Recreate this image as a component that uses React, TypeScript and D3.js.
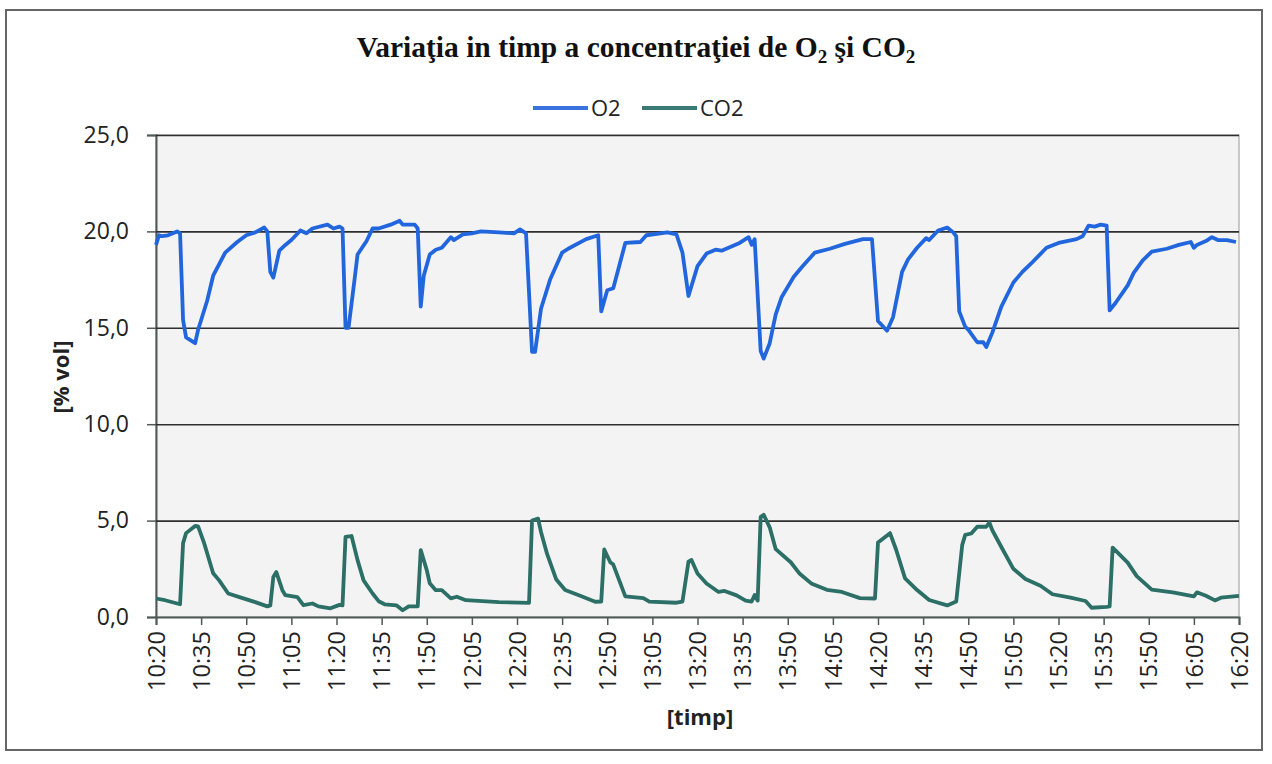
import React, { useRef, useEffect } from 'react';
import * as d3 from 'd3';

const xTickLabels = [
  '10:20', '10:35', '10:50', '11:05', '11:20', '11:35', '11:50', '12:05', '12:20',
  '12:35', '12:50', '13:05', '13:20', '13:35', '13:50', '14:05', '14:20', '14:35',
  '14:50', '15:05', '15:20', '15:35', '15:50', '16:05', '16:20'
];
const yTicks = [0, 5, 10, 15, 20, 25];

const o2: [string, number][] = [
  ['10:20', 19.3], ['10:21', 19.8], ['10:22', 19.75], ['10:24', 19.8], ['10:27', 20.0], ['10:28', 19.9],
  ['10:29', 15.4], ['10:30', 14.5], ['10:33', 14.2], ['10:34', 14.9], ['10:37', 16.4], ['10:39', 17.7],
  ['10:41', 18.3], ['10:43', 18.9], ['10:47', 19.45], ['10:50', 19.8], ['10:53', 19.95], ['10:56', 20.2],
  ['10:57', 20.0], ['10:58', 17.9], ['10:59', 17.6], ['11:01', 19.0], ['11:03', 19.3], ['11:05', 19.55],
  ['11:08', 20.05], ['11:10', 19.9], ['11:12', 20.15], ['11:17', 20.35], ['11:19', 20.15], ['11:21', 20.25],
  ['11:22', 20.15], ['11:23', 15.0], ['11:24', 15.0], ['11:26', 17.5], ['11:27', 18.8], ['11:30', 19.5],
  ['11:32', 20.15], ['11:34', 20.15], ['11:38', 20.35], ['11:41', 20.55], ['11:42', 20.35], ['11:46', 20.35],
  ['11:47', 20.15], ['11:48', 16.1], ['11:49', 17.7], ['11:51', 18.8], ['11:53', 19.05], ['11:55', 19.15],
  ['11:58', 19.7], ['11:59', 19.55], ['12:02', 19.85], ['12:05', 19.9], ['12:08', 20.0], ['12:14', 19.95],
  ['12:19', 19.9], ['12:21', 20.1], ['12:23', 19.9], ['12:25', 13.75], ['12:26', 13.75], ['12:28', 16.0],
  ['12:31', 17.5], ['12:35', 18.9], ['12:37', 19.1], ['12:43', 19.6], ['12:47', 19.8], ['12:48', 15.85],
  ['12:50', 16.95], ['12:52', 17.05], ['12:56', 19.4], ['13:01', 19.45], ['13:03', 19.8], ['13:10', 19.95],
  ['13:13', 19.85], ['13:15', 18.9], ['13:17', 16.65], ['13:20', 18.2], ['13:23', 18.85], ['13:26', 19.05],
  ['13:28', 19.0], ['13:34', 19.4], ['13:37', 19.7], ['13:38', 19.3], ['13:39', 19.6], ['13:41', 13.8],
  ['13:42', 13.4], ['13:44', 14.2], ['13:46', 15.7], ['13:48', 16.6], ['13:52', 17.65], ['13:55', 18.2],
  ['13:59', 18.9], ['14:04', 19.1], ['14:09', 19.35], ['14:15', 19.6], ['14:18', 19.6], ['14:20', 15.35],
  ['14:23', 14.85], ['14:25', 15.55], ['14:28', 17.9], ['14:30', 18.55], ['14:33', 19.15], ['14:36', 19.65],
  ['14:37', 19.55], ['14:40', 20.05], ['14:43', 20.2], ['14:45', 19.95], ['14:46', 19.75], ['14:47', 15.85],
  ['14:49', 15.05], ['14:50', 14.9], ['14:53', 14.25], ['14:55', 14.25], ['14:56', 14.0], ['14:58', 14.75],
  ['15:01', 16.1], ['15:05', 17.35], ['15:08', 17.9], ['15:11', 18.35], ['15:16', 19.15], ['15:20', 19.4],
  ['15:26', 19.6], ['15:28', 19.75], ['15:30', 20.3], ['15:32', 20.25], ['15:34', 20.35], ['15:36', 20.3],
  ['15:37', 15.9], ['15:39', 16.3], ['15:43', 17.2], ['15:45', 17.85], ['15:48', 18.5], ['15:51', 18.95],
  ['15:56', 19.1], ['16:00', 19.3], ['16:04', 19.45], ['16:05', 19.15], ['16:06', 19.3], ['16:09', 19.5],
  ['16:11', 19.7], ['16:13', 19.55], ['16:16', 19.55], ['16:19', 19.45]
];

const co2: [string, number][] = [
  ['10:20', 0.96], ['10:23', 0.87], ['10:28', 0.66], ['10:29', 3.83], ['10:30', 4.35], ['10:33', 4.72],
  ['10:34', 4.7], ['10:36', 3.83], ['10:39', 2.27], ['10:41', 1.9], ['10:44', 1.22], ['10:48', 1.02],
  ['10:53', 0.77], ['10:57', 0.55], ['10:58', 0.6], ['10:59', 2.07], ['11:00', 2.33], ['11:02', 1.39],
  ['11:03', 1.13], ['11:07', 1.03], ['11:09', 0.61], ['11:12', 0.7], ['11:14', 0.55], ['11:18', 0.45],
  ['11:21', 0.63], ['11:22', 0.6], ['11:23', 4.15], ['11:25', 4.2], ['11:27', 2.95], ['11:29', 1.9],
  ['11:32', 1.22], ['11:34', 0.82], ['11:36', 0.66], ['11:40', 0.6], ['11:42', 0.35], ['11:44', 0.55],
  ['11:47', 0.55], ['11:48', 3.47], ['11:50', 2.43], ['11:51', 1.75], ['11:53', 1.39], ['11:55', 1.39],
  ['11:58', 0.97], ['12:00', 1.05], ['12:03', 0.87], ['12:14', 0.77], ['12:24', 0.73], ['12:25', 5.0],
  ['12:27', 5.1], ['12:28', 4.4], ['12:30', 3.27], ['12:33', 1.96], ['12:36', 1.4], ['12:41', 1.1],
  ['12:46', 0.79], ['12:48', 0.8], ['12:49', 3.5], ['12:51', 2.84], ['12:52', 2.72], ['12:56', 1.07],
  ['13:02', 0.98], ['13:04', 0.8], ['13:13', 0.74], ['13:15', 0.8], ['13:17', 2.87], ['13:18', 2.96],
  ['13:20', 2.26], ['13:23', 1.74], ['13:27', 1.3], ['13:29', 1.35], ['13:33', 1.12], ['13:36', 0.85],
  ['13:38', 0.8], ['13:39', 1.14], ['13:40', 0.85], ['13:41', 5.2], ['13:42', 5.3], ['13:44', 4.65],
  ['13:46', 3.52], ['13:51', 2.84], ['13:54', 2.24], ['13:58', 1.72], ['14:03', 1.41], ['14:08', 1.3],
  ['14:14', 0.98], ['14:19', 0.96], ['14:20', 3.86], ['14:24', 4.35], ['14:26', 3.5], ['14:29', 2.0],
  ['14:33', 1.4], ['14:37', 0.88], ['14:43', 0.6], ['14:46', 0.8], ['14:48', 3.74], ['14:49', 4.26],
  ['14:51', 4.33], ['14:53', 4.68], ['14:56', 4.68], ['14:57', 4.9], ['14:58', 4.5], ['15:01', 3.63],
  ['15:05', 2.5], ['15:09', 1.97], ['15:14', 1.62], ['15:18', 1.18], ['15:24', 1.0], ['15:29', 0.83],
  ['15:31', 0.48], ['15:36', 0.53], ['15:37', 0.55], ['15:38', 3.6], ['15:43', 2.82], ['15:46', 2.12],
  ['15:51', 1.42], ['15:58', 1.28], ['16:05', 1.07], ['16:06', 1.28], ['16:09', 1.1], ['16:12', 0.86],
  ['16:14', 1.0], ['16:20', 1.1]
];

const toMin = (t: string) => {
  const [h, m] = t.split(':').map(Number);
  return h * 60 + m;
};

const W = 1272;
const H = 764;
const margin = { left: 156, right: 33, top: 135, bottom: 147 };
const FONT = '"Open Sans", "Noto Sans", sans-serif';

const App = () => {
  const svgRef = useRef<SVGSVGElement>(null);

  useEffect(() => {
    const svg = d3.select(svgRef.current);
    svg.selectAll('*').remove();

    const x = d3.scaleLinear()
      .domain([toMin(xTickLabels[0]), toMin(xTickLabels[xTickLabels.length - 1])])
      .range([margin.left, W - margin.right]);
    const y = d3.scaleLinear()
      .domain([0, 25])
      .range([H - margin.bottom, margin.top]);

    // chart frame
    svg.append('rect')
      .attr('x', 6).attr('y', 10).attr('width', 1256).attr('height', 740)
      .attr('fill', '#fff').attr('stroke', '#666').attr('stroke-width', 2);

    // plot area
    svg.append('rect')
      .attr('x', x.range()[0]).attr('y', y(25))
      .attr('width', x.range()[1] - x.range()[0]).attr('height', y(0) - y(25))
      .attr('fill', '#f3f3f3').attr('stroke', '#b8b8b8').attr('stroke-width', 1.5);

    // horizontal gridlines + y axis
    svg.append('g')
      .attr('transform', `translate(${margin.left},0)`)
      .call(d3.axisLeft(y).tickValues(yTicks).tickSize(9).tickPadding(18)
        .tickFormat(d => (d as number).toFixed(1).replace('.', ',')))
      .call(g => g.select('.domain').attr('stroke', '#4f5a57').attr('stroke-width', 2))
      .call(g => g.selectAll('.tick line').attr('stroke', '#4f5a57').attr('stroke-width', 1.5))
      .call(g => g.selectAll('.tick').filter(d => d !== 0).append('line')
        .attr('x2', x.range()[1] - margin.left)
        .attr('stroke', '#2e2e2e').attr('stroke-width', 1.6))
      .call(g => g.selectAll('.tick text')
        .attr('font-family', FONT).attr('font-size', 23).attr('fill', '#222'));

    // x axis
    svg.append('g')
      .attr('transform', `translate(0,${y(0)})`)
      .call(d3.axisBottom(x).tickValues(xTickLabels.map(toMin)).tickSize(8)
        .tickFormat((_, i) => xTickLabels[i]))
      .call(g => g.select('.domain').attr('stroke', '#4f5a57').attr('stroke-width', 2))
      .call(g => g.selectAll('.tick line').attr('stroke', '#4f5a57').attr('stroke-width', 1.5))
      .call(g => g.selectAll('.tick text')
        .attr('font-family', FONT).attr('font-size', 23.5).attr('fill', '#222')
        .attr('text-anchor', 'end').attr('dy', '0.35em')
        .attr('transform', 'translate(0,14) rotate(-90)')
        .attr('x', 0).attr('y', 0));

    const line = d3.line<[string, number]>()
      .x(d => x(toMin(d[0])))
      .y(d => y(d[1]));

    svg.append('path')
      .datum(co2)
      .attr('fill', 'none').attr('stroke', '#2b6f66').attr('stroke-width', 3.8)
      .attr('stroke-linejoin', 'round').attr('d', line);

    svg.append('path')
      .datum(o2)
      .attr('fill', 'none').attr('stroke', '#2266dd').attr('stroke-width', 3.8)
      .attr('stroke-linejoin', 'round').attr('d', line);

    // title
    const title = svg.append('text')
      .attr('x', 636).attr('y', 57)
      .attr('text-anchor', 'middle')
      .attr('font-family', '"Liberation Serif", "Times New Roman", serif')
      .attr('font-weight', 'bold').attr('font-size', 29.5).attr('fill', '#111');
    title.append('tspan').text('Variaţia in timp a concentraţiei de O');
    title.append('tspan').text('2').attr('font-size', 19).attr('dy', 6);
    title.append('tspan').text(' şi CO').attr('dy', -6);
    title.append('tspan').text('2').attr('font-size', 19).attr('dy', 6);

    // legend
    const legend = [
      { name: 'O2', color: '#3b72e0', x: 533 },
      { name: 'CO2', color: '#3a7a72', x: 642 }
    ];
    legend.forEach(l => {
      svg.append('line')
        .attr('x1', l.x).attr('x2', l.x + 55).attr('y1', 108).attr('y2', 108)
        .attr('stroke', l.color).attr('stroke-width', 4);
      svg.append('text')
        .attr('x', l.x + 58).attr('y', 116)
        .attr('font-family', FONT).attr('font-size', 22).attr('fill', '#222')
        .text(l.name);
    });

    // axis titles
    svg.append('text')
      .attr('transform', `translate(61,${(y(0) + y(25)) / 2 + 1}) rotate(-90)`)
      .attr('text-anchor', 'middle').attr('dy', '0.35em')
      .attr('font-family', FONT).attr('font-weight', 'bold').attr('font-size', 22).attr('fill', '#222')
      .text('[% vol]');

    svg.append('text')
      .attr('x', 700).attr('y', 725)
      .attr('text-anchor', 'middle')
      .attr('font-family', FONT).attr('font-weight', 'bold').attr('font-size', 22).attr('fill', '#222')
      .text('[timp]');
  }, []);

  return (
    <svg
      ref={svgRef}
      width={W}
      height={H}
      style={{ position: 'absolute', left: 0, top: 0, background: '#fff' }}
    />
  );
};

export default App;
